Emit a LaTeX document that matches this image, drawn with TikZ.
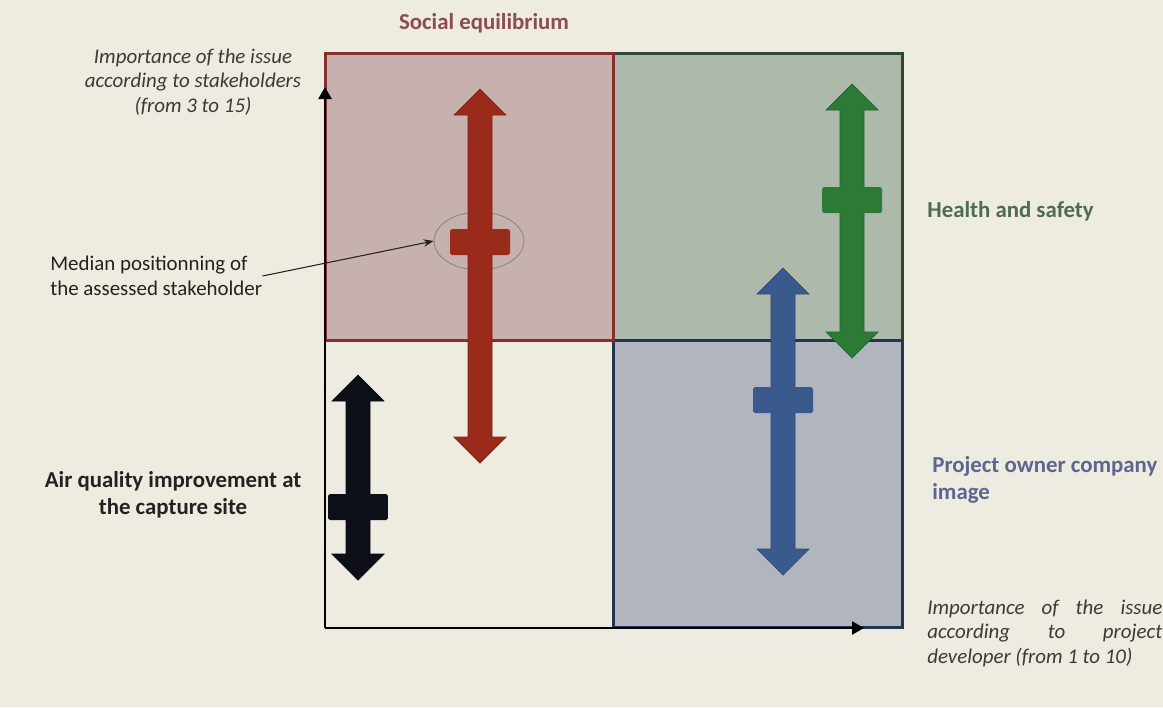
\documentclass[tikz,border=0pt]{standalone}
\usepackage{fontspec}
\setmainfont{Carlito}
\usetikzlibrary{arrows.meta,shapes.geometric}

\definecolor{bg}{HTML}{EEEBE0}
\definecolor{ink}{HTML}{222222}
\definecolor{axisink}{HTML}{3A3A3A}
\definecolor{ringgrey}{HTML}{858884}
\definecolor{socfill}{HTML}{C6B1AE}
\definecolor{socline}{HTML}{8A2E2B}
\definecolor{socarrow}{HTML}{9A2B1B}
\definecolor{soctext}{HTML}{8C4B55}
\definecolor{hsfill}{HTML}{ADB9AB}
\definecolor{hsline}{HTML}{2C4A33}
\definecolor{hsarrow}{HTML}{2B7A36}
\definecolor{hstext}{HTML}{4E6B55}
\definecolor{imgfill}{HTML}{B0B5BE}
\definecolor{imgline}{HTML}{27344F}
\definecolor{imgarrow}{HTML}{3A5A8E}
\definecolor{imgtext}{HTML}{5C6690}
\definecolor{airarrow}{HTML}{0D0F18}

\begin{document}
\begin{tikzpicture}[x=0.02cm,y=-0.02cm,>=Stealth,
  quad/.style={line width=0.06cm},
  bar/.style={rectangle,minimum width=1.2cm,minimum height=0.52cm,inner sep=0pt,rounded corners=1pt},
  title/.style={font=\fontsize{13}{15.5}\selectfont\bfseries,inner sep=0pt},
  note/.style={font=\fontsize{11.9}{14}\selectfont,text=ink,inner sep=0pt},
  axis label/.style={font=\fontsize{11.9}{13.9}\selectfont\itshape,text=axisink,inner sep=0pt},
  axis/.style={line width=0.05cm,-{Triangle[length=0.24cm,width=0.26cm]}}]

\path[use as bounding box,fill=bg] (0,0) rectangle (1163,707);

% the three coloured quadrants
\draw[quad,draw=hsline,fill=hsfill] (613,53) rectangle (902,340);
\draw[quad,draw=imgline,fill=imgfill] (613,340) rectangle (902,627);
\draw[quad,draw=socline,fill=socfill] (325,53) rectangle (613,340);

% axes
\coordinate (o) at (325,628);
\coordinate (ytip) at (325,87);
\coordinate (xtip) at (864,628);
\draw[axis] (o) -- (ytip);
\draw[axis] (o) -- (xtip);

\node[draw=ringgrey,line width=0.5pt,ellipse,minimum width=1.8cm,minimum height=1.16cm,inner sep=0pt] (ring) at (479,241) {};

% one double arrow and median bar per issue
\foreach \n/\x/\t/\b/\m/\c in {soc/480/89/463/242/socarrow, air/358/375/580/507/airarrow,
    hs/852/84/358/200/hsarrow, img/783/268/575/400/imgarrow} {
  \filldraw[fill=\c,draw=\c!80!black,line width=0.4pt]
    (\x-12,\t+26) -- (\x-26,\t+26) -- (\x,\t) -- (\x+26,\t+26) -- (\x+12,\t+26)
    -- (\x+12,\b-26) -- (\x+26,\b-26) -- (\x,\b) -- (\x-26,\b-26) -- (\x-12,\b-26) -- cycle;
  \node[bar,fill=\c] (bar-\n) at (\x,\m) {};
}

\node[title,text=soctext] (soc) at (484,23) {Social equilibrium};
\node[title,text=hstext,anchor=west] (hs) at (927,211) {Health and safety};
\node[title,text=imgtext,anchor=west,align=left] (img) at (932,480) {Project owner company\\image};
\node[title,text=ink,align=center] (air) at (173,495) {Air quality improvement at\\the capture site};
\node[note,anchor=west,align=left] (median) at (50,276) {Median positionning of\\the assessed stakeholder};
\node[axis label,align=center] (ylab) at (193,82) {Importance of the issue\\according to stakeholders\\(from 3 to 15)};
\node[axis label,anchor=west,text width=4.7cm,align=justify] (xlab) at (927,633)
  {Importance of the issue\linebreak according to project\linebreak developer (from 1 to 10)};

\draw[->,line width=0.6pt,ink] (median.east) -- (ring.west);
\end{tikzpicture}
\end{document}
